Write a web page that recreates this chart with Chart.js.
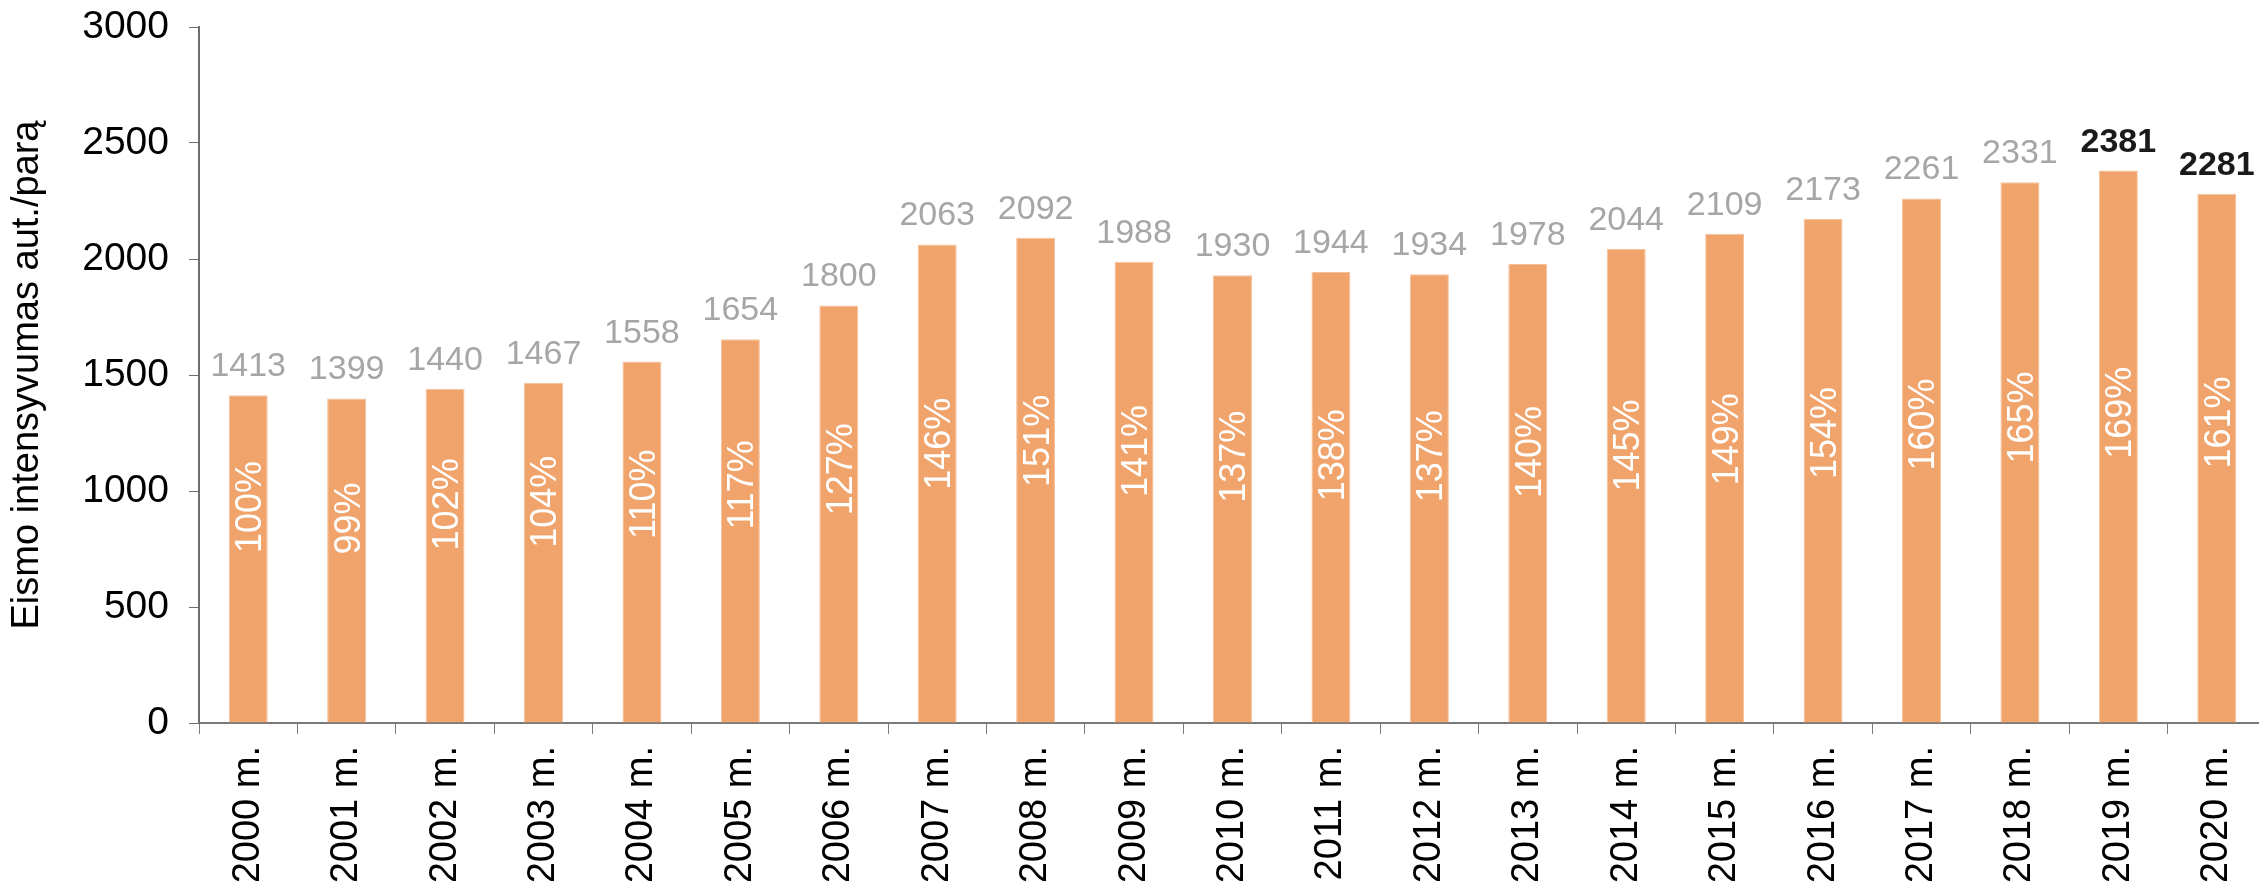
<!DOCTYPE html>
<html>
<head>
<meta charset="utf-8">
<script src="https://cdn.jsdelivr.net/npm/chart.js@4/dist/chart.umd.min.js"></script>
<style>
  html, body { margin: 0; padding: 0; background: #ffffff; overflow: hidden; }
  #wrap { width: 2259px; height: 881px; overflow: hidden; position: relative; }
  canvas { display: block; }
</style>
</head>
<body>
<div id="wrap"><canvas id="c" width="2270" height="881"></canvas></div>
<script>
const categories = ['2000 m.','2001 m.','2002 m.','2003 m.','2004 m.','2005 m.','2006 m.','2007 m.','2008 m.','2009 m.','2010 m.','2011 m.','2012 m.','2013 m.','2014 m.','2015 m.','2016 m.','2017 m.','2018 m.','2019 m.','2020 m.'];
const values = [1413,1399,1440,1467,1558,1654,1800,2063,2092,1988,1930,1944,1934,1978,2044,2109,2173,2261,2331,2381,2281];
const percentLabels = ['100%','99%','102%','104%','110%','117%','127%','146%','151%','141%','137%','138%','137%','140%','145%','149%','154%','160%','165%','169%','161%'];
const boldLabel = [false,false,false,false,false,false,false,false,false,false,false,false,false,false,false,false,false,false,false,true,true];
const yTicks = [0,500,1000,1500,2000,2500,3000];
const yTitle = 'Eismo intensyvumas aut./parą';

const FONT = "'Liberation Sans', Arial, Helvetica, sans-serif";

const labelPlugin = {
  id: 'barLabels',
  afterDatasetsDraw(chart) {
    const ctx = chart.ctx;
    const meta = chart.getDatasetMeta(0);
    const yScale = chart.scales.y;
    ctx.save();
    meta.data.forEach((bar, i) => {
      const v = values[i];
      ctx.font = (boldLabel[i] ? 'bold ' : '') + '34px ' + FONT;
      ctx.fillStyle = boldLabel[i] ? '#1a1a1a' : '#a6a6a6';
      ctx.textAlign = 'center';
      ctx.textBaseline = 'alphabetic';
      ctx.fillText(String(v), bar.x, bar.y - 19);
      const anchor = yScale.getPixelForValue(0.42 * v + 139);
      ctx.save();
      ctx.translate(bar.x + 3, anchor);
      ctx.rotate(-Math.PI / 2);
      ctx.font = '36px ' + FONT;
      ctx.fillStyle = '#ffffff';
      ctx.textAlign = 'left';
      ctx.textBaseline = 'middle';
      ctx.fillText(percentLabels[i], 0, 0);
      ctx.restore();
    });
    ctx.restore();
  }
};

new Chart(document.getElementById('c'), {
  type: 'bar',
  data: {
    labels: categories,
    datasets: [{
      data: values,
      backgroundColor: '#f0a46c',
      borderColor: '#f5c19a',
      borderWidth: 1,
      barPercentage: 0.396,
      categoryPercentage: 1.0
    }]
  },
  options: {
    responsive: false,
    animation: false,
    events: [],
    layout: { padding: { top: 27, right: 4, left: 0, bottom: 0 } },
    plugins: { legend: { display: false }, tooltip: { enabled: false } },
    scales: {
      x: {
        grid: { display: true, drawOnChartArea: false, drawTicks: true, tickLength: 11, color: '#7a7a7a', offset: true },
        border: { display: true, color: '#7a7a7a', width: 2 },
        ticks: {
          color: '#000000', font: { family: FONT, size: 38 },
          minRotation: 90, maxRotation: 90, padding: 12, autoSkip: false
        },
        afterFit(scale) { scale.height = 881 - 723; scale.paddingLeft = 0; scale.paddingRight = 0; }
      },
      y: {
        min: 0, max: 3000,
        afterBuildTicks(scale) { scale.ticks = yTicks.map(v => ({ value: v })); },
        grid: { display: true, drawOnChartArea: false, drawTicks: true, tickLength: 10, color: '#6e6e6e' },
        border: { display: true, color: '#6e6e6e', width: 2 },
        ticks: { color: '#000000', font: { family: FONT, size: 39 }, padding: 20, callback: (v) => String(v) },
        title: { display: true, text: yTitle, color: '#000000', font: { family: FONT, size: 38 }, padding: { top: 5, bottom: 0 } },
        afterFit(scale) { scale.width = 199; scale.paddingTop = 0; scale.paddingBottom = 0; }
      }
    }
  },
  plugins: [labelPlugin]
});
</script>
</body>
</html>
